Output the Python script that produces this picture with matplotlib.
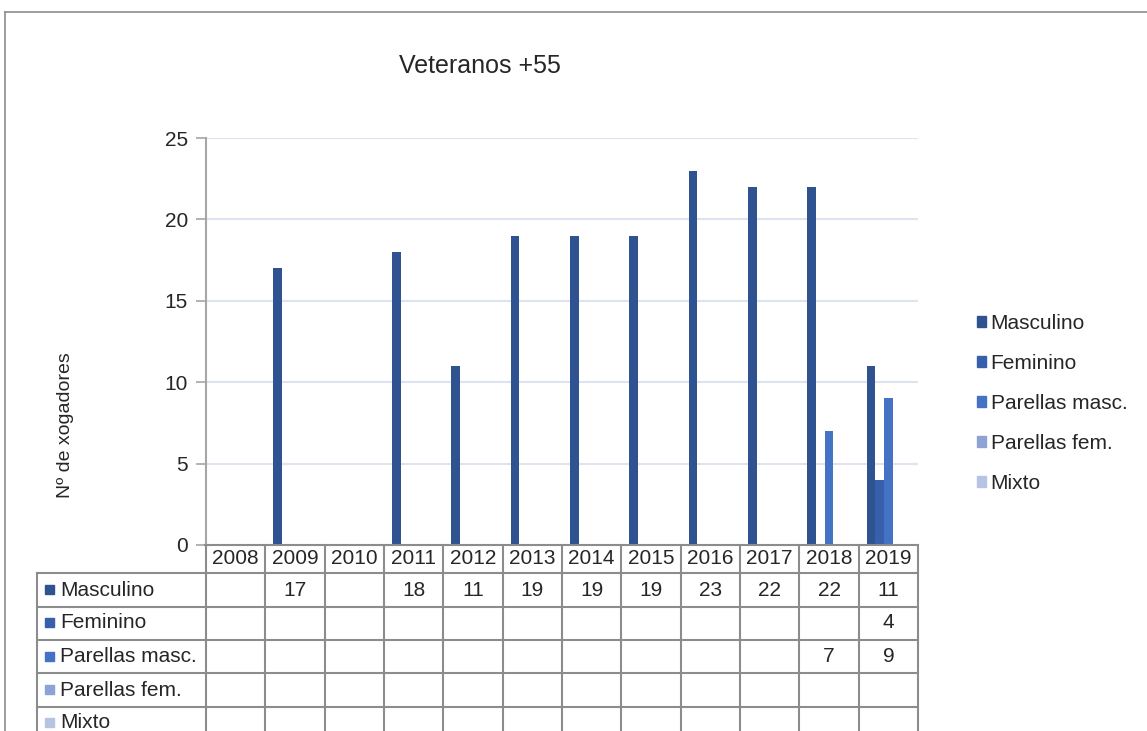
import matplotlib
matplotlib.use('Agg')
import matplotlib.pyplot as plt
from matplotlib import transforms
from matplotlib.lines import Line2D
from matplotlib.patches import Rectangle
import numpy as np

years = ['2008', '2009', '2010', '2011', '2012', '2013', '2014', '2015', '2016', '2017', '2018', '2019']
series_names = ['Masculino', 'Feminino', 'Parellas masc.', 'Parellas fem.', 'Mixto']
masculino = [None, 17, None, 18, 11, 19, 19, 19, 23, 22, 22, 11]
feminino = [None, None, None, None, None, None, None, None, None, None, None, 4]
parellas_masc = [None, None, None, None, None, None, None, None, None, None, 7, 9]
parellas_fem = [None] * 12
mixto = [None] * 12
colors = ['#2F5391', '#3760AA', '#4472C4', '#8EA3D5', '#B6C3E3']

W, H = 1147, 731
plt.rcParams['font.family'] = ['Liberation Sans', 'DejaVu Sans']
txtc = '#262626'
linec = '#8C8C8C'

def fx(px):
	return px / W

def fy(py):
	return 1 - py / H

fig = plt.figure(figsize=(W / 100, H / 100), dpi=100)
ax = fig.add_axes([fx(206), fy(545), fx(918) - fx(206), fy(138) - fy(545)])

allseries = [masculino, feminino, parellas_masc, parellas_fem, mixto]
w = 0.145
handles = []
for j, (name, vals) in enumerate(zip(series_names, allseries)):
	xs = [i + (j - 2) * w for i, v in enumerate(vals) if v is not None]
	hs = [v for v in vals if v is not None]
	ax.bar(xs, hs, width=w, color=colors[j], label=name, zorder=3)
	handles.append(Rectangle((0, 0), 1, 1, color=colors[j]))

ax.set_xlim(-0.5, 11.5)
ax.set_ylim(0, 25)
ax.set_yticks([0, 5, 10, 15, 20, 25])
ax.set_xticks([])
for yv in [5, 10, 15, 20, 25]:
	ax.axhline(yv, color='#DCE4F2', lw=1.5, zorder=1)
for s in ['top', 'right', 'bottom']:
	ax.spines[s].set_visible(False)
ax.spines['left'].set_color('#A6A6A6')
ax.spines['left'].set_linewidth(1.5)
ax.tick_params(axis='y', length=7, width=1.2, color='#A6A6A6', labelsize=15, labelcolor=txtc, pad=6)

fig.text(fx(480), fy(66), 'Veteranos +55', ha='center', va='center', fontsize=18, color=txtc)
fig.text(fx(65), fy(425), 'Nº de xogadores', ha='center', va='center', rotation=90, fontsize=14, color=txtc)

ax.legend(handles, series_names, loc='upper left', bbox_to_anchor=(fx(977), fy(314)),
	bbox_transform=fig.transFigure, frameon=False, fontsize=15, handlelength=0.45,
	handleheight=0.45, handletextpad=0.2, labelspacing=1.01, borderaxespad=0, borderpad=0)
for t in ax.get_legend().get_texts():
	t.set_color(txtc)

# data table under the chart
bt = transforms.blended_transform_factory(ax.transData, fig.transFigure)
row_lines = [545, 573, 607, 640, 673, 707]
row_centers = [590, 623, 657, 690, 723]
for k, yl in enumerate(row_lines):
	if k == 0:
		fig.add_artist(Line2D([fx(205), fx(918)], [fy(yl), fy(yl)], color=linec, lw=1.5))
	else:
		fig.add_artist(Line2D([fx(37), fx(918)], [fy(yl), fy(yl)], color=linec, lw=1.5))
for i in range(len(years) + 1):
	fig.add_artist(Line2D([i - 0.5, i - 0.5], [fy(545), fy(760)], color=linec, lw=1.5, transform=bt, clip_on=False))
fig.add_artist(Line2D([fx(37), fx(37)], [fy(573), fy(760)], color=linec, lw=1.5))

for i, yr in enumerate(years):
	fig.text(i, fy(559), yr, transform=bt, ha='center', va='center', fontsize=15, color=txtc)

for j, (name, vals) in enumerate(zip(series_names, allseries)):
	yc = row_centers[j]
	fig.add_artist(Rectangle((fx(45), fy(yc + 4)), fx(9), 9 / H, color=colors[j]))
	fig.text(fx(60), fy(yc), name, ha='left', va='center', fontsize=15, color=txtc)
	for i, v in enumerate(vals):
		if v is not None:
			fig.text(i, fy(yc), str(v), transform=bt, ha='center', va='center', fontsize=15, color=txtc)

# chart border
fig.add_artist(Line2D([fx(5), fx(5)], [fy(12), 0], color='#8C8C8C', lw=1.2))
fig.add_artist(Line2D([fx(5), 1], [fy(12), fy(12)], color='#8C8C8C', lw=1.2))

fig.savefig('out.png', dpi=100)
